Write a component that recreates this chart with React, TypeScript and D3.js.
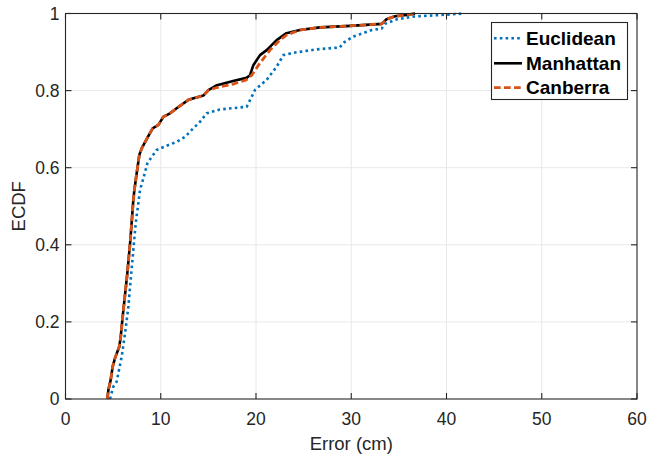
import React from "react";
import * as d3 from "d3";

const xTicks = [0, 10, 20, 30, 40, 50, 60];
const yTicks = [0, 0.2, 0.4, 0.6, 0.8, 1];
const yTickLabels = ["0", "0.2", "0.4", "0.6", "0.8", "1"];
const legendLabels = ["Euclidean", "Manhattan", "Canberra"];

const euclideanX = [4.67, 5.02, 5.37, 5.55, 5.9, 6.25, 6.6, 6.84, 7.12, 7.37, 7.65, 7.82, 8.17, 8.59, 9.05, 9.57, 10.62, 11.67, 12.55, 13.25, 14.12, 14.82, 16.2, 19.02, 19.55, 19.9, 21.12, 22.17, 22.87, 23.9, 26.4, 28.8, 29.17, 30.2, 32.15, 33.2, 33.54, 34.8, 36.5, 39.3, 41.9];
const euclideanY = [0, 0.032, 0.045, 0.067, 0.11, 0.17, 0.239, 0.309, 0.386, 0.456, 0.508, 0.542, 0.572, 0.611, 0.628, 0.646, 0.657, 0.667, 0.68, 0.698, 0.719, 0.741, 0.751, 0.758, 0.784, 0.802, 0.828, 0.862, 0.892, 0.898, 0.907, 0.912, 0.924, 0.94, 0.957, 0.961, 0.973, 0.985, 0.992, 0.996, 1.0];

const manhattanX = [4.39, 4.5, 4.74, 4.95, 5.2, 5.65, 5.8, 6.0, 6.49, 6.81, 7.12, 7.23, 7.47, 7.75, 8.0, 8.65, 9.15, 9.75, 10.27, 10.97, 11.67, 12.9, 14.47, 15.0, 15.9, 17.6, 19.0, 19.37, 19.72, 20.42, 21.12, 22.17, 23.2, 24.6, 26.7, 29.9, 33.2, 33.7, 34.6, 35.8, 36.7];
const manhattanY = [0, 0.023, 0.049, 0.084, 0.106, 0.136, 0.162, 0.213, 0.326, 0.412, 0.516, 0.542, 0.585, 0.633, 0.65, 0.68, 0.702, 0.711, 0.732, 0.741, 0.754, 0.776, 0.787, 0.801, 0.814, 0.825, 0.833, 0.84, 0.866, 0.892, 0.905, 0.931, 0.949, 0.957, 0.964, 0.968, 0.973, 0.985, 0.993, 0.996, 1.0];

const canberraX = [4.39, 4.5, 4.74, 4.95, 5.2, 5.65, 5.8, 6.0, 6.49, 6.81, 7.12, 7.23, 7.47, 7.75, 8.0, 8.65, 9.15, 9.75, 10.27, 10.97, 11.67, 12.9, 14.47, 15.0, 15.9, 17.6, 19.0, 19.55, 20.4, 21.47, 22.5, 23.2, 24.6, 26.7, 29.9, 33.2, 33.7, 34.6, 35.8, 36.7];
const canberraY = [0, 0.023, 0.049, 0.084, 0.106, 0.136, 0.162, 0.213, 0.326, 0.412, 0.516, 0.542, 0.585, 0.633, 0.65, 0.68, 0.702, 0.711, 0.732, 0.741, 0.754, 0.776, 0.787, 0.801, 0.808, 0.817, 0.828, 0.84, 0.871, 0.905, 0.931, 0.944, 0.957, 0.964, 0.968, 0.973, 0.985, 0.993, 0.996, 1.0];

const W = 647;
const H = 455;
const L = 65.5, R = 637, T = 13.5, B = 399;
const axisColor = "#262626";
const font = "'Liberation Sans', Arial, Helvetica, sans-serif";

export default function App() {
  const x = d3.scaleLinear().domain([0, 60]).range([L, R]);
  const y = d3.scaleLinear().domain([0, 1]).range([B, T]);
  const line = d3
    .line<[number, number]>()
    .x((d) => x(d[0]))
    .y((d) => y(d[1]));
  const zip = (a: number[], b: number[]) => a.map((v, i) => [v, b[i]] as [number, number]);

  const series = [
    { name: legendLabels[0], pts: zip(euclideanX, euclideanY), color: "#0072BD", width: 2.6, dash: "2.6 3.2" },
    { name: legendLabels[1], pts: zip(manhattanX, manhattanY), color: "#000000", width: 2.6, dash: undefined },
    { name: legendLabels[2], pts: zip(canberraX, canberraY), color: "#D95319", width: 2.8, dash: "6.7 3.3" },
  ];

  const legendYs = [38.3, 63.3, 87.7];

  return (
    <svg width={W} height={H} style={{ position: "absolute", left: 0, top: 0, background: "#fff" }} fontFamily={font}>
      <rect x={0} y={0} width={W} height={H} fill="#fff" />
      {/* grid */}
      {xTicks.slice(1, -1).map((t) => (
        <line key={"gx" + t} x1={x(t)} x2={x(t)} y1={T} y2={B} stroke="#e8e8e8" strokeWidth={1} />
      ))}
      {yTicks.slice(1, -1).map((t) => (
        <line key={"gy" + t} x1={L} x2={R} y1={y(t)} y2={y(t)} stroke="#e8e8e8" strokeWidth={1} />
      ))}
      {/* series */}
      {series.map((s) => (
        <path
          key={s.name}
          d={line(s.pts) || ""}
          fill="none"
          stroke={s.color}
          strokeWidth={s.width}
          strokeDasharray={s.dash}
          strokeLinejoin="round"
        />
      ))}
      {/* box */}
      <rect x={L} y={T} width={R - L} height={B - T} fill="none" stroke={axisColor} strokeWidth={1.1} />
      {/* ticks */}
      {xTicks.map((t) => (
        <g key={"tx" + t}>
          <line x1={x(t)} x2={x(t)} y1={B} y2={B - 6} stroke={axisColor} strokeWidth={1.1} />
          <line x1={x(t)} x2={x(t)} y1={T} y2={T + 6} stroke={axisColor} strokeWidth={1.1} />
          <text x={x(t)} y={424.5} textAnchor="middle" fontSize={17.5} fill={axisColor}>
            {t}
          </text>
        </g>
      ))}
      {yTicks.map((t, i) => (
        <g key={"ty" + t}>
          <line x1={L} x2={L + 6} y1={y(t)} y2={y(t)} stroke={axisColor} strokeWidth={1.1} />
          <line x1={R} x2={R - 6} y1={y(t)} y2={y(t)} stroke={axisColor} strokeWidth={1.1} />
          <text x={59.5} y={y(t) + 6.2} textAnchor="end" fontSize={17.5} fill={axisColor}>
            {yTickLabels[i]}
          </text>
        </g>
      ))}
      {/* axis labels */}
      <text x={(L + R) / 2} y={450} textAnchor="middle" fontSize={18.5} fill={axisColor}>
        Error (cm)
      </text>
      <text
        transform={`translate(25, ${(T + B) / 2}) rotate(-90)`}
        textAnchor="middle"
        fontSize={18.5}
        fill={axisColor}
      >
        ECDF
      </text>
      {/* legend */}
      <rect x={491.5} y={22.5} width={136} height={77} fill="#fff" stroke={axisColor} strokeWidth={1.1} />
      {series.map((s, i) => (
        <g key={"lg" + s.name}>
          <line
            x1={494}
            x2={522}
            y1={legendYs[i]}
            y2={legendYs[i]}
            stroke={s.color}
            strokeWidth={s.width}
            strokeDasharray={s.dash}
          />
          <text x={526} y={legendYs[i] + 6.2} fontSize={19} fontWeight="bold" fill="#000">
            {s.name}
          </text>
        </g>
      ))}
    </svg>
  );
}
